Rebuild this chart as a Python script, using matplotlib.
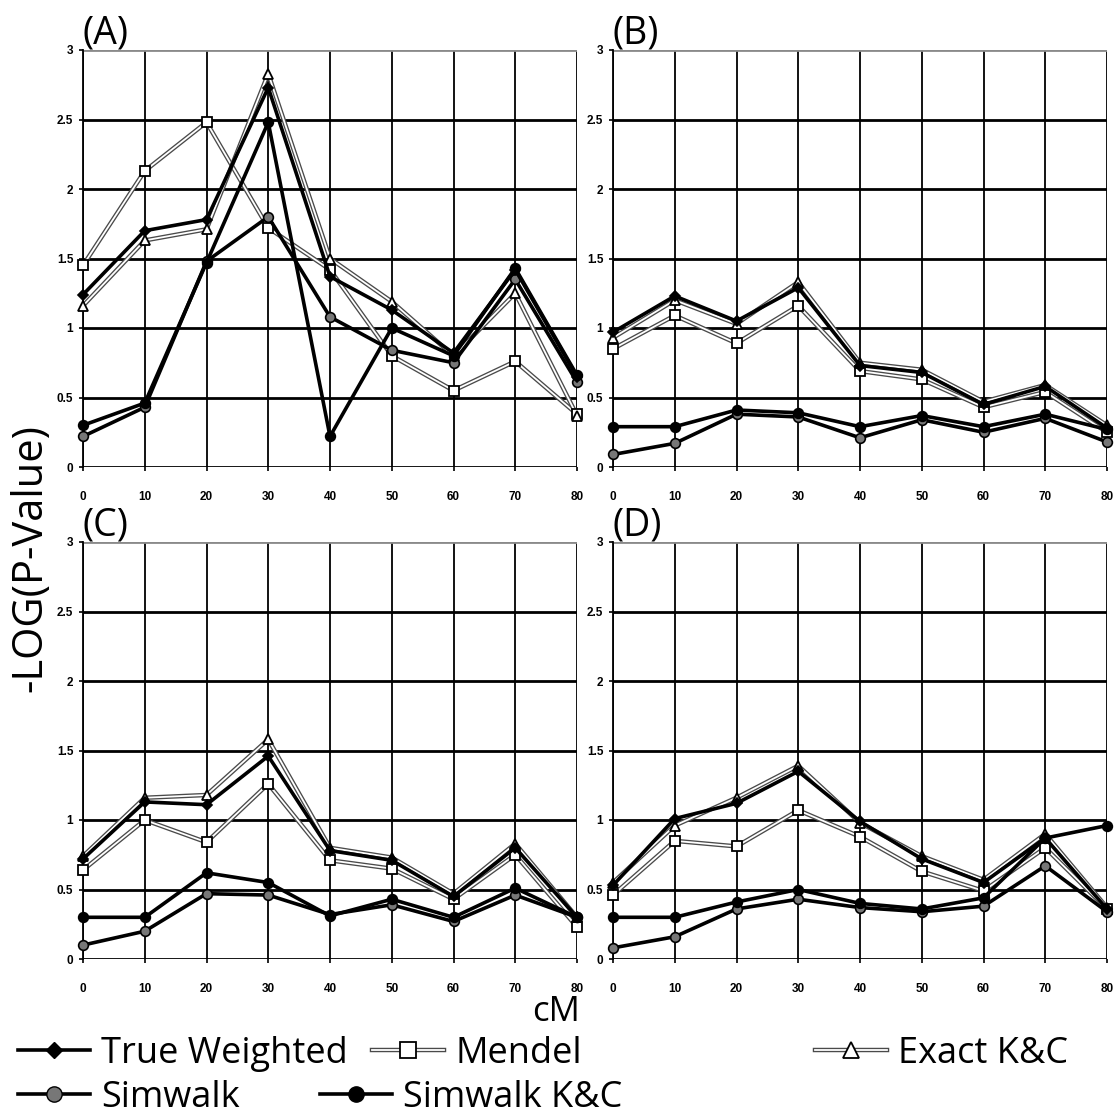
import matplotlib.pyplot as plt
import matplotlib.patheffects as pe
from matplotlib.lines import Line2D

cm = [0, 10, 20, 30, 40, 50, 60, 70, 80]
y_ticks = [0, 0.5, 1, 1.5, 2, 2.5, 3]
y_tick_labels = ['0', '0.5', '1', '1.5', '2', '2.5', '3']
panel_names = ['(A)', '(B)', '(C)', '(D)']
series_names = ['True Weighted', 'Mendel', 'Exact K&C', 'Simwalk', 'Simwalk K&C']

# values, -log10(p) per marker position
true_weighted = [
    [1.24, 1.70, 1.78, 2.73, 1.37, 1.13, 0.82, 1.42, 0.65],
    [0.97, 1.23, 1.05, 1.29, 0.73, 0.68, 0.45, 0.58, 0.28],
    [0.72, 1.13, 1.11, 1.46, 0.78, 0.71, 0.45, 0.80, 0.30],
    [0.53, 1.01, 1.12, 1.35, 0.99, 0.72, 0.55, 0.87, 0.36],
]
mendel = [
    [1.45, 2.13, 2.48, 1.72, 1.42, 0.80, 0.55, 0.76, 0.38],
    [0.85, 1.09, 0.89, 1.16, 0.69, 0.63, 0.43, 0.54, 0.25],
    [0.64, 1.00, 0.84, 1.26, 0.71, 0.65, 0.43, 0.75, 0.23],
    [0.46, 0.85, 0.81, 1.07, 0.88, 0.63, 0.49, 0.80, 0.36],
]
exact_kc = [
    [1.16, 1.63, 1.71, 2.83, 1.50, 1.19, 0.80, 1.25, 0.37],
    [0.93, 1.20, 1.03, 1.33, 0.75, 0.70, 0.47, 0.59, 0.30],
    [0.74, 1.16, 1.18, 1.58, 0.80, 0.73, 0.47, 0.83, 0.30],
    [0.55, 0.96, 1.16, 1.39, 0.98, 0.74, 0.57, 0.90, 0.37],
]
simwalk = [
    [0.22, 0.43, 1.48, 1.80, 1.08, 0.84, 0.75, 1.35, 0.61],
    [0.09, 0.17, 0.38, 0.36, 0.21, 0.34, 0.25, 0.35, 0.18],
    [0.10, 0.20, 0.47, 0.46, 0.32, 0.39, 0.27, 0.46, 0.30],
    [0.08, 0.16, 0.36, 0.43, 0.37, 0.34, 0.38, 0.67, 0.34],
]
simwalk_kc = [
    [0.30, 0.46, 1.47, 2.48, 0.22, 1.00, 0.80, 1.43, 0.66],
    [0.29, 0.29, 0.41, 0.39, 0.29, 0.37, 0.29, 0.38, 0.27],
    [0.30, 0.30, 0.62, 0.55, 0.31, 0.43, 0.30, 0.51, 0.30],
    [0.30, 0.30, 0.41, 0.50, 0.40, 0.36, 0.44, 0.87, 0.96],
]

BIG_FONT = ['Open Sans', 'DejaVu Sans']
TICK_FONT = ['Liberation Sans Narrow', 'Liberation Sans', 'DejaVu Sans']

W, H = 1117, 1118
fig = plt.figure(figsize=(W / 100, H / 100), dpi=100)

# axes boxes in pixels: left, top, right, bottom
boxes = [(83, 50, 577, 467), (613, 50, 1107, 467),
         (83, 542, 577, 959), (613, 542, 1107, 959)]

double_fx = [pe.Stroke(linewidth=3.2, foreground='#4a4a4a'), pe.Normal()]


def double_line(ax, y, marker, ms):
    ax.plot(cm, y, color='white', lw=1.3, path_effects=double_fx,
            zorder=3, clip_on=False)
    ax.plot(cm, y, ls='none', marker=marker, ms=ms, mfc='white',
            mec='black', mew=1.3, zorder=4, clip_on=False)


def thick_line(ax, y, marker, ms, face, z):
    ax.plot(cm, y, color='black', lw=2.6, marker=marker, ms=ms,
            mfc=face, mec='black', mew=1.2, zorder=z, clip_on=False)


for i, (l, t, r, b) in enumerate(boxes):
    ax = fig.add_axes([l / W, 1 - b / H, (r - l) / W, (b - t) / H])
    ax.set_xlim(0, 80)
    ax.set_ylim(0, 3)

    double_line(ax, mendel[i], 's', 6.5)
    double_line(ax, exact_kc[i], '^', 7)
    thick_line(ax, simwalk[i], 'o', 7, '#777777', 5)
    thick_line(ax, simwalk_kc[i], 'o', 7, 'black', 6)
    thick_line(ax, true_weighted[i], 'D', 5.5, 'black', 7)

    ax.set_xticks(cm)
    ax.set_yticks(y_ticks)
    ax.set_yticklabels(y_tick_labels)
    ax.grid(axis='y', color='black', lw=2.0, zorder=1)
    ax.grid(axis='x', color='black', lw=1.3, zorder=1)
    ax.get_ygridlines()[-1].set_color('#8a8a8a')
    ax.set_axisbelow(True)
    for s in ['top', 'right', 'bottom']:
        ax.spines[s].set_visible(False)
    ax.spines['left'].set_linewidth(1.3)
    ax.tick_params(axis='both', length=3, width=1.2, pad=4)
    ax.tick_params(axis='x', pad=14)
    for lab in ax.get_xticklabels() + ax.get_yticklabels():
        lab.set_fontfamily(TICK_FONT)
        lab.set_fontweight('bold')
        lab.set_fontsize(8.5)

    ax.text(0.0, 0.995, panel_names[i], transform=ax.transAxes,
            ha='left', va='bottom', fontsize=27, family=BIG_FONT)

fig.text(30 / W, 1 - 558 / H, '-LOG(P-Value)', rotation=90, ha='center',
         va='center', fontsize=30, family=BIG_FONT)
fig.text(556 / W, 1 - 1012 / H, 'cM', ha='center', va='center',
         fontsize=25, family=BIG_FONT)

# legend entries, one small legend per entry so they can sit like the original
h_tw = Line2D([], [], color='black', lw=2.6, marker='D', ms=8,
              mfc='black', mec='black')
h_md = (Line2D([], [], color='white', lw=1.3, path_effects=double_fx),
        Line2D([], [], ls='none', marker='s', ms=12, mfc='white',
               mec='black', mew=1.3))
h_ex = (Line2D([], [], color='white', lw=1.3, path_effects=double_fx),
        Line2D([], [], ls='none', marker='^', ms=12, mfc='white',
               mec='black', mew=1.3))
h_sw = Line2D([], [], color='black', lw=2.6, marker='o', ms=11,
              mfc='#777777', mec='black')
h_swkc = Line2D([], [], color='black', lw=2.6, marker='o', ms=11,
                mfc='black', mec='black')
handles = [h_tw, h_md, h_ex, h_sw, h_swkc]
spots = [(18, 1054), (372, 1054), (815, 1054), (18, 1098), (320, 1098)]

for h, name, (x, y) in zip(handles, series_names, spots):
    fig.legend(handles=[h], labels=[name], loc='center left',
               bbox_to_anchor=(x / W, 1 - y / H), frameon=False,
               prop={'family': BIG_FONT, 'size': 26}, handlelength=2.0,
               handletextpad=0.3, borderpad=0, borderaxespad=0)

fig.savefig('out.png', dpi=100)
